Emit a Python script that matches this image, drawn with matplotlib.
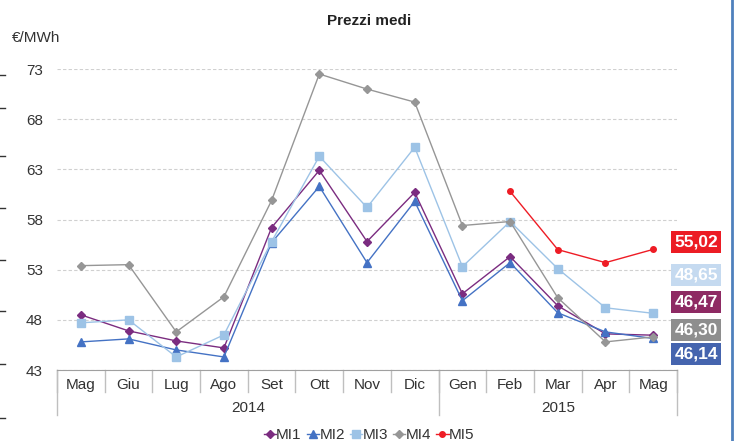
import numpy as np
import matplotlib
matplotlib.use("Agg")
import matplotlib.pyplot as plt
from matplotlib.lines import Line2D

plt.rcParams['font.family'] = ['Liberation Sans', 'DejaVu Sans']

# --- data
mesi = ["Mag", "Giu", "Lug", "Ago", "Set", "Ott", "Nov", "Dic",
        "Gen", "Feb", "Mar", "Apr", "Mag"]
anni = ["2014", "2015"]
mesi_per_anno = [8, 5]

mi1 = [48.5, 46.9, 45.9, 45.2, 57.2, 62.9, 55.8, 60.7, 50.6, 54.3, 49.4, 46.6, 46.47]
mi2 = [45.8, 46.1, 45.0, 44.3, 55.7, 61.3, 53.7, 59.8, 49.9, 53.7, 48.7, 46.8, 46.14]
mi3 = [47.7, 48.0, 44.3, 46.5, 55.8, 64.3, 59.2, 65.2, 53.3, 57.8, 53.1, 49.2, 48.65]
mi4 = [53.4, 53.5, 46.8, 50.3, 59.9, 72.5, 71.0, 69.7, 57.4, 57.8, 50.2, 45.8, 46.30]
mi5 = [np.nan] * 9 + [60.8, 55.0, 53.7, 55.02]

# ultimo valore di ogni serie, nell'ordine dei riquadri a destra
ultimi = [mi5[-1], mi3[-1], mi1[-1], mi4[-1], mi2[-1]]

# --- style
c1, c2, c3, c4, c5 = "#7B2C80", "#4472C4", "#9DC3E6", "#969696", "#EE1C25"
box_colori = ["#EC1C24", "#C5DAF0", "#8E2A63", "#8E8E8E", "#4564AE"]
box_y = [55.8, 52.5, 49.75, 47.0, 44.6]   # posizioni dei riquadri (layout)

W, H = 738, 441
fig = plt.figure(figsize=(W / 100, H / 100), dpi=100)
ax = fig.add_axes([57 / W, (H - 370) / H, 620 / W, 301 / H])

x = np.arange(len(mesi))
l1, = ax.plot(x, mi1, color=c1, lw=1, marker="D", ms=4.5, label="MI1")
l2, = ax.plot(x, mi2, color=c2, lw=1, marker="^", ms=6, label="MI2")
l3, = ax.plot(x, mi3, color=c3, lw=1, marker="s", ms=6, label="MI3")
l4, = ax.plot(x, mi4, color=c4, lw=1, marker="D", ms=4.5, label="MI4")
l5, = ax.plot(x, mi5, color=c5, lw=1, marker="o", ms=4, label="MI5")

ax.set_xlim(-0.5, len(mesi) - 0.5)
ax.set_ylim(43, 73)
ax.set_yticks(range(43, 74, 5))
ax.yaxis.grid(True, ls=(0, (3, 2)), color="#D0D0D0", lw=0.8)
ax.set_axisbelow(True)
for s in ["top", "right", "left"]:
    ax.spines[s].set_visible(False)
ax.spines["bottom"].set_color("#A0A0A0")
ax.tick_params(axis="y", length=0, pad=10, labelsize=11, labelcolor="#333333")

# asse a due livelli
ax.set_xticks(x)
ax.set_xticklabels(mesi, fontsize=11, color="#333333")
ax.tick_params(axis="x", length=0, pad=6)
tr = ax.get_xaxis_transform()
for i in range(len(mesi) + 1):
    ax.plot([i - 0.5, i - 0.5], [0, -0.073], transform=tr, color="#BFBFBF",
            lw=1, clip_on=False)
start = 0
bordi = [0]
for anno, n in zip(anni, mesi_per_anno):
    ax.text(start + (n - 1) / 2, -0.125, anno, transform=tr, ha="center",
            va="center", fontsize=11, color="#333333")
    start += n
    bordi.append(start)
for b in bordi:
    ax.plot([b - 0.5, b - 0.5], [0, -0.15], transform=tr, color="#BFBFBF",
            lw=1, clip_on=False)

# riquadri con l'ultimo valore
for v, yb, col in zip(ultimi, box_y, box_colori):
    ax.text(12.9, yb, f"{v:.2f}".replace(".", ","), ha="center", va="center",
            fontsize=12.5, fontweight="bold", color="white", clip_on=False,
            bbox=dict(boxstyle="square,pad=0.2", fc=col, ec="none"))

fig.text(0.5, 1 - 21 / H, "Prezzi medi", ha="center", va="center",
         fontsize=11, fontweight="bold", color="#222222")
fig.text(12 / W, 1 - 38 / H, "€/MWh", ha="left", va="center",
         fontsize=11, color="#333333")

fig.legend(handles=[l1, l2, l3, l4, l5], loc="center",
           bbox_to_anchor=(0.5, 6 / H), ncol=5, frameon=False, fontsize=11,
           handlelength=0.8, handletextpad=0.0, columnspacing=0.35,
           labelcolor="#333333", borderaxespad=0, borderpad=0)

# bordo blu a destra e segni sul margine sinistro
fig.add_artist(Line2D([732 / W, 732 / W], [0, 1], color="#4F81BD", lw=2))
for yp in [75, 108, 156, 208, 260, 311, 364, 418]:
    fig.add_artist(Line2D([0, 5 / W], [1 - yp / H] * 2, color="#333333", lw=1))

fig.savefig("out.png", dpi=100)
